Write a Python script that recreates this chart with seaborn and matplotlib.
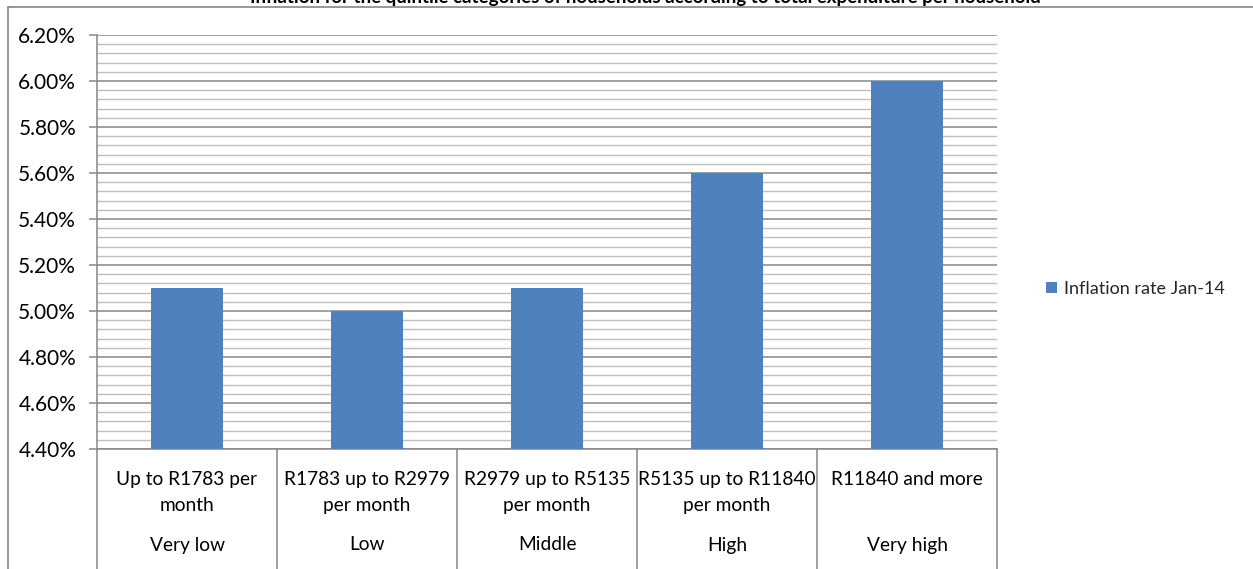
import matplotlib
matplotlib.use("Agg")
import matplotlib.pyplot as plt
import matplotlib.ticker as mticker
import seaborn as sns
import pandas as pd

categories = ["Up to R1783 per\nmonth", "R1783 up to R2979\nper month", "R2979 up to R5135\nper month",
              "R5135 up to R11840\nper month", "R11840 and more"]
groups = ["Very low", "Low", "Middle", "High", "Very high"]
values = [5.10, 5.00, 5.10, 5.60, 6.00]
series_name = "Inflation rate Jan-14"
title = "Inflation for the quintile categories of households according to total expenditure per household"

sns.set_theme(style="white")
plt.rcParams['font.family'] = ['Lato', 'DejaVu Sans']

df = pd.DataFrame({"cat": categories, "val": values})

W, H = 1253, 569
fig = plt.figure(figsize=(W / 100, H / 100), dpi=100)
fig.patch.set_facecolor("white")
ax = fig.add_axes([97 / W, 1 - 449 / H, 900 / W, (449 - 35) / H])

sns.barplot(data=df, x="cat", y="val", color="#4f81bd", saturation=1, width=0.4,
            label=series_name, ax=ax, zorder=3, linewidth=0)

ax.set_ylim(4.40, 6.20)
ax.set_xlim(-0.5, 4.5)
ax.yaxis.set_major_locator(mticker.MultipleLocator(0.2))
ax.yaxis.set_minor_locator(mticker.MultipleLocator(0.04))
ax.yaxis.set_major_formatter(mticker.FuncFormatter(lambda v, p: f"{v:.2f}%"))
ax.grid(which="major", axis="y", color="#868686", lw=1.1, zorder=0)
ax.grid(which="minor", axis="y", color="#bfbfbf", lw=1.0, zorder=0)
ax.set_axisbelow(True)
ax.set_xlabel("")
ax.set_ylabel("")

for s in ["top", "right"]:
    ax.spines[s].set_visible(False)
for s in ["left", "bottom"]:
    ax.spines[s].set_color("#868686")
    ax.spines[s].set_linewidth(1.1)

ax.tick_params(axis="y", which="major", left=True, length=6, color="#868686", width=1.1,
               labelsize=15, labelcolor="black", pad=9)
ax.tick_params(axis="y", which="minor", left=False)
ax.tick_params(axis="x", length=0, labelsize=13.8, labelcolor="black", pad=15.5)
for lab in ax.get_xticklabels():
    lab.set_linespacing(1.65)
    lab.set_verticalalignment("top")

# category separators (multi-level axis)
for i in range(len(categories) + 1):
    ax.plot([i / len(categories)] * 2, [0, -0.35], transform=ax.transAxes, color="#868686",
            lw=1.1, clip_on=False)

trans = ax.get_xaxis_transform()
for i, g in enumerate(groups):
    ax.text(i, -96 / 414, g, transform=trans, ha="center", va="center", fontsize=13.8, color="black")

leg = ax.legend(loc="center left", bbox_to_anchor=(1030 / W, 1 - 289 / H), bbox_transform=fig.transFigure,
                frameon=False, fontsize=13, handlelength=0.6, handleheight=0.6, handletextpad=0.4)

# outer chart border
fig.add_artist(plt.Line2D([8 / W, 1], [1 - 7 / H, 1 - 7 / H], transform=fig.transFigure, color="#868686", lw=1.2))
fig.add_artist(plt.Line2D([8 / W, 8 / W], [0, 1 - 7 / H], transform=fig.transFigure, color="#868686", lw=1.2))

# title (partly cut off at the top, as in the reference)
fig.text(645 / W, 1 - 3 / H, title, ha="center", va="baseline", fontsize=13.5, fontweight="bold", color="black")

fig.savefig("out.png", dpi=100, facecolor="white")
